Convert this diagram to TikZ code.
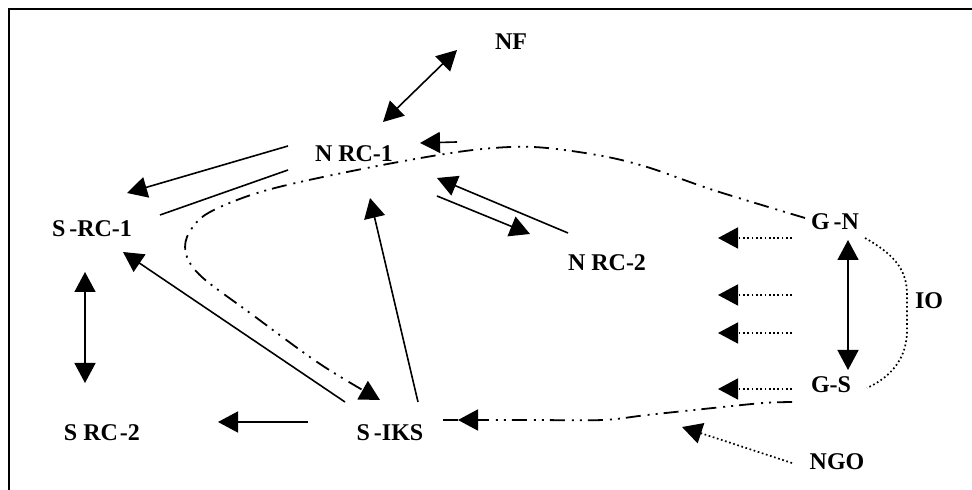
\documentclass[tikz,border=0pt]{standalone}
\usepackage{fontspec}
\setmainfont{Liberation Serif}
\usetikzlibrary{arrows.meta}
\begin{document}
\begin{tikzpicture}[x=0.5pt,y=-0.5pt,
  lbl/.style={font=\bfseries\fontsize{12}{14}\selectfont, inner sep=0pt},
  conn/.style={line width=0.8pt},
  tipend/.style={-{Triangle[length=10pt,width=10.5pt]}},
  tipboth/.style={{Triangle[length=10pt,width=10.5pt]}-{Triangle[length=10pt,width=10.5pt]}},
  dotline/.style={line width=0.85pt, dash pattern=on 0.85pt off 1.3pt},
  ddd/.style={line width=0.9pt, dash pattern=on 7.5pt off 3pt on 1pt off 3pt on 1pt off 3.5pt}]
\useasboundingbox (0,0) rectangle (972,490);
\draw[line width=1pt] (972,9) -- (9,9) -- (9,490);

% labels
\node[lbl] (nf)   at (511,42)  {NF};
\node[lbl] (nrc1) at (354,154) {N RC-1};
\node[lbl] (src1) at (92,229)  {S\kern2pt-RC-1};
\node[lbl] (nrc2) at (607,263) {N RC-2};
\node[lbl] (gn)   at (835,222) {G\kern2pt-N};
\node[lbl] (io)   at (929,301) {IO};
\node[lbl] (gs)   at (831,385) {G-S};
\node[lbl] (ngo)  at (837,462) {NGO};
\node[lbl] (siks) at (390,433) {S\kern2pt-IKS};
\node[lbl] (src2) at (102,433) {S RC\kern1pt-2};

% connector end points
\coordinate (nf-a) at (383,122);   \coordinate (nf-b) at (457,50);
\coordinate (n1-a) at (288,146);   \coordinate (s1-a) at (127,193);
\coordinate (n1-b) at (288,170);   \coordinate (s1-b) at (160,215);
\coordinate (n1-c) at (420,143);   \coordinate (n1-c0) at (457,142);
\coordinate (n2-a) at (568,233);   \coordinate (n1-d) at (437,178);
\coordinate (n1-e) at (437,196);   \coordinate (n2-b) at (530,234);
\coordinate (sk-a) at (418,402);   \coordinate (n1-f) at (370,198);
\coordinate (sk-b) at (345,402);   \coordinate (s1-c) at (123,252);
\coordinate (sk-c) at (308,422);   \coordinate (s2-a) at (218,422);
\coordinate (s1-d) at (85,272);    \coordinate (s2-b) at (85,383);
\coordinate (gn-a) at (848,240);   \coordinate (gs-a) at (848,370);
\coordinate (sk-d) at (458,420);   \coordinate (sk-e) at (437,420);
\coordinate (gs-b) at (792,402);
\coordinate (gn-b) at (805,218);   \coordinate (sk-f) at (380,400);
\coordinate (ngo-a) at (792,463);  \coordinate (ngo-b) at (682,427);
\coordinate (io-a) at (865,238);   \coordinate (io-b) at (867,388);

% solid connectors
\draw[conn,tipboth] (nf-a) -- (nf-b);
\draw[conn,tipend] (n1-a) -- (s1-a);
\draw[conn] (s1-b) -- (n1-b);
\draw[conn,tipend] (n1-c0) -- (n1-c);
\draw[conn,tipend] (n2-a) -- (n1-d);
\draw[conn,tipend] (n1-e) -- (n2-b);
\draw[conn,tipend] (sk-a) -- (n1-f);
\draw[conn,tipend] (sk-b) -- (s1-c);
\draw[conn,tipend] (sk-c) -- (s2-a);
\draw[conn,tipboth] (s1-d) -- (s2-b);
\draw[conn,tipboth] (gn-a) -- (gs-a);

% dotted connectors
\foreach \yy in {238,295,333,389}
  \draw[dotline,tipend] (792,\yy) -- (718,\yy);
\draw[dotline,tipend] (ngo-a) -- (ngo-b);
\draw[dotline] (io-a) .. controls (895,255) and (907,270) .. (907,295)
   -- (907,330) .. controls (907,355) and (895,375) .. (io-b);

% dash-dot loop from G-N to S-IKS
\draw[ddd,tipend] plot[smooth,tension=0.55] coordinates {
  (gn-b) (713,190) (647,167) (597,155) (533,147) (473,150) (393,163)
  (300,182) (248,196) (205,215) (187,237) (187,257) (203,278)
  (250,313) (320,364) (sk-f)};

% dash-dot line from G-S to S-IKS
\draw[ddd,tipend] plot[smooth,tension=0.5] coordinates {
  (gs-b) (763,403) (713,408) (647,415) (603,420) (530,420) (sk-d)};
\draw[ddd] (sk-d) -- (sk-e);
\end{tikzpicture}
\end{document}
